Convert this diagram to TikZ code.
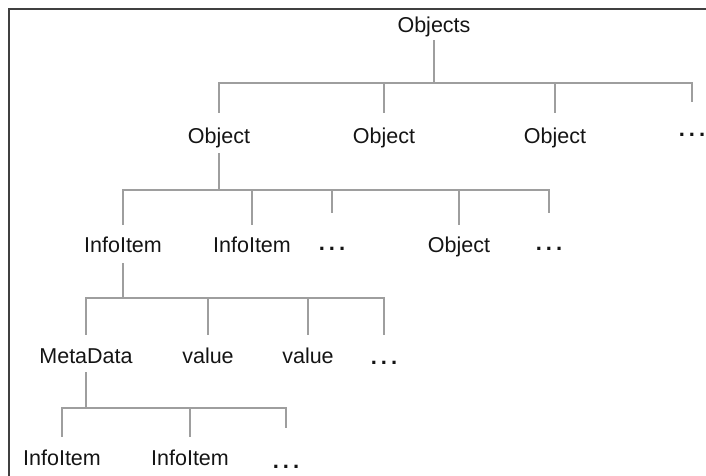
\documentclass[tikz,border=0pt]{standalone}
\usepackage{fontspec}
\setmainfont{Liberation Sans}
\begin{document}
\begin{tikzpicture}[x=1pt,y=-1pt,
  lbl/.style={anchor=base,inner sep=0pt,outer sep=0pt,text height=16pt,text depth=5pt,
    font=\fontsize{21.5}{22}\selectfont,text=black!92},
  dots/.style={lbl,font=\fontsize{22}{22}\selectfont\bfseries},
  conn/.style={draw=black!38,line width=1.3pt},
  frame/.style={draw=black!75,line width=1.4pt}]
\useasboundingbox (0,0) rectangle (706,475);
\draw[frame] (9,490) -- (9,9) -- (720,9);
% nodes
\node[lbl] (objs) at (434,32) {Objects};
\node[lbl] (o1) at (219,143) {Object};
\node[lbl] (o2) at (384,143) {Object};
\node[lbl] (o3) at (555,143) {Object};
\node[dots] (d1) at (692,136) {.\hspace{4pt}.\hspace{4pt}.};
\node[lbl] (i1) at (123,252) {InfoItem};
\node[lbl] (i2) at (252,252) {InfoItem};
\node[dots] (d2) at (332,250) {.\hspace{4pt}.\hspace{4pt}.};
\node[lbl] (o4) at (459,252) {Object};
\node[dots] (d3) at (549,250) {.\hspace{4pt}.\hspace{4pt}.};
\node[lbl] (m1) at (86,363) {MetaData};
\node[lbl] (v1) at (208,363) {value};
\node[lbl] (v2) at (308,363) {value};
\node[dots] (d4) at (384,364) {.\hspace{4pt}.\hspace{4pt}.};
\node[lbl] (j1) at (62,465) {InfoItem};
\node[lbl] (j2) at (190,465) {InfoItem};
\node[dots] (d5) at (286,468) {.\hspace{4pt}.\hspace{4pt}.};
% junctions
\coordinate (b1) at (434,83);
\coordinate (b2) at (219,190);
\coordinate (b3) at (123,298);
\coordinate (b4) at (86,408);
% level 1
\draw[conn,shorten <=3pt] (objs.south) -- (b1);
\draw[conn,shorten >=14pt] (b1) -| (o1.north);
\draw[conn,shorten >=14pt] (b1) -| (o2.north);
\draw[conn,shorten >=14pt] (b1) -| (o3.north);
\draw[conn,shorten >=18pt] (b1) -| (d1.north);
% level 2
\draw[conn,shorten <=5pt] (o1.south) -- (b2);
\draw[conn,shorten >=11pt] (b2) -| (i1.north);
\draw[conn,shorten >=11pt] (b2) -| (i2.north);
\draw[conn,shorten >=21pt] (b2) -| (d2.north);
\draw[conn,shorten >=11pt] (b2) -| (o4.north);
\draw[conn,shorten >=21pt] (b2) -| (d3.north);
% level 3
\draw[conn,shorten <=6pt] (i1.south) -- (b3);
\draw[conn,shorten >=12pt] (b3) -| (m1.north);
\draw[conn,shorten >=12pt] (b3) -| (v1.north);
\draw[conn,shorten >=12pt] (b3) -| (v2.north);
\draw[conn,shorten >=13pt] (b3) -| (d4.north);
% level 4
\draw[conn,shorten <=4pt] (m1.south) -- (b4);
\draw[conn,shorten >=12pt] (b4) -| (j1.north);
\draw[conn,shorten >=12pt] (b4) -| (j2.north);
\draw[conn,shorten >=24pt] (b4) -| (d5.north);
\end{tikzpicture}
\end{document}
